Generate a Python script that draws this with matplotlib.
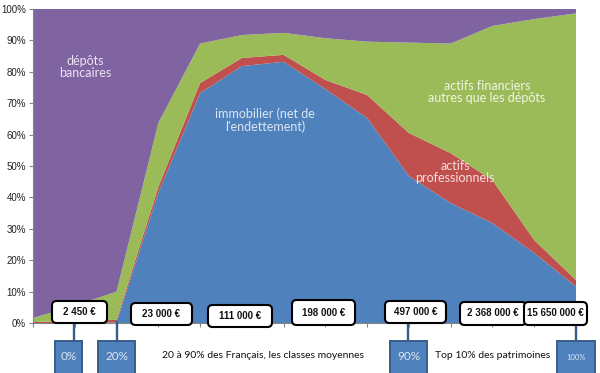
import matplotlib
matplotlib.use("Agg")
import matplotlib.pyplot as plt
from matplotlib.patches import Rectangle, FancyBboxPatch
from matplotlib.lines import Line2D
import numpy as np

# ---- data (shares of wealth, %) ----
positions = list(range(14))
immobilier = [0.0, 0.0, 0.2, 41.4, 73.2, 81.8, 83.2, 74.5, 65.3, 46.8, 38.2, 31.8, 22.3, 11.6]
professionnels = [0.3, 0.7, 0.8, 1.9, 3.2, 2.6, 2.2, 2.9, 7.3, 13.7, 15.9, 13.7, 4.1, 2.1]
financiers = [1.3, 4.8, 9.0, 20.4, 12.6, 7.3, 7.0, 13.3, 17.0, 28.8, 34.9, 49.1, 70.4, 84.9]
depots = [98.4, 94.5, 90.0, 36.3, 11.0, 8.3, 7.6, 9.3, 10.4, 10.7, 11.0, 5.4, 3.2, 1.4]

series_labels = ["immobilier (net de\nl'endettement)", "actifs\nprofessionnels",
                 "actifs financiers\nautres que les dépôts", "dépôts\nbancaires"]
colors = ["#4f81bd", "#c0504d", "#9bbb59", "#8064a2"]

value_labels = ["2 450 €", "23 000 €", "111 000 €", "198 000 €", "497 000 €",
                "2 368 000 €", "15 650 000 €"]
percentile_labels = ["0%", "20%", "90%", "100%"]
group_texts = ["20 à 90% des Français, les classes moyennes", "Top 10% des patrimoines"]

W, H = 600, 373
fig = plt.figure(figsize=(W / 100, H / 100), dpi=100)
fig.patch.set_facecolor("white")

def fx(x):
    return x / W

def fy(y):
    return 1 - y / H

ax = fig.add_axes([fx(33), fy(323), fx(576) - fx(33), fy(9) - fy(323)])
vals = [np.array(s) / 100 for s in (immobilier, professionnels, financiers, depots)]
ax.stackplot(positions, *vals, colors=colors, linewidth=0)
ax.set_xlim(0, 13)
ax.set_ylim(0, 1)
ticks = np.arange(0, 1.01, 0.1)
ax.set_yticks(ticks)
ax.set_yticklabels([f"{int(round(v*100))}%" for v in ticks],
                   fontsize=7, family="Liberation Sans", color="#222222")
ax.set_xticks(positions)
ax.set_xticklabels([])
ax.tick_params(axis="both", length=3, color="#868686", width=0.8, pad=2)
for s in ("top", "right"):
    ax.spines[s].set_visible(False)
for s in ("left", "bottom"):
    ax.spines[s].set_color("#868686")
    ax.spines[s].set_linewidth(0.8)

# area labels
lab_font = dict(family="Lato", fontsize=9, ha="center", va="center", linespacing=1.05)
fig.text(fx(85), fy(67), series_labels[3], color="#ebe4f2", **lab_font)
fig.text(fx(265), fy(120), series_labels[0], color="#dce6f2", **lab_font)
fig.text(fx(487), fy(92), series_labels[2], color="#f0f5e4", **lab_font)
fig.text(fx(455), fy(172), series_labels[1], color="#f5e0df", **lab_font)

# pixel-based transform (origin at top-left, in inches)
pt = fig.dpi_scale_trans

def px(x, y):
    return x / 100, (H - y) / 100

# connector lines
line_x = [74, 117, 408, 576]
for x in line_x:
    fig.add_artist(Line2D([fx(x), fx(x)], [fy(322), fy(341)], color="#385d8a", lw=1.7))

# value boxes (extents in pixels: x0, x1, y0, y1)
box_ext = [(52, 107, 301, 323), (131, 192, 303, 325), (208, 272, 305, 327),
           (292, 355, 300, 325), (385, 446, 301, 323), (460, 526, 302, 325),
           (524, 587, 302, 325)]
for (x0, x1, y0, y1), txt in zip(box_ext, value_labels):
    bx, by = px(x0, y1)
    fig.add_artist(FancyBboxPatch((bx, by), (x1 - x0) / 100, (y1 - y0) / 100,
                                  boxstyle="round,pad=0,rounding_size=0.045",
                                  transform=pt, fc="white", ec="black", lw=1.5,
                                  zorder=5))
    tx, ty = px((x0 + x1) / 2, (y0 + y1) / 2)
    fig.text(tx, ty, txt, transform=pt, ha="center", va="center", fontsize=7,
             fontweight="bold", family="Liberation Sans", color="#111111", zorder=6)

# percentile boxes
pbox = [(55, 82), (98, 135), (390, 427), (557, 595)]
psize = [8.5, 8.5, 8.5, 5.5]
for (x0, x1), txt, fs in zip(pbox, percentile_labels, psize):
    bx, by = px(x0, 376)
    fig.add_artist(Rectangle((bx, by), (x1 - x0) / 100, 35 / 100,
                             transform=pt, fc="#4f81bd", ec="#385d8a", lw=1.4))
    tx, ty = px((x0 + x1) / 2, 357)
    fig.text(tx, ty, txt, transform=pt, ha="center", va="center", fontsize=fs,
             family="Lato", color="#dbe5f1")

fig.text(fx(162), fy(356), group_texts[0], ha="left", va="center", fontsize=7.5,
         family="Lato", color="#111111")
fig.text(fx(435), fy(356), group_texts[1], ha="left", va="center", fontsize=7.5,
         family="Lato", color="#111111")

fig.savefig("out.png", dpi=100)
